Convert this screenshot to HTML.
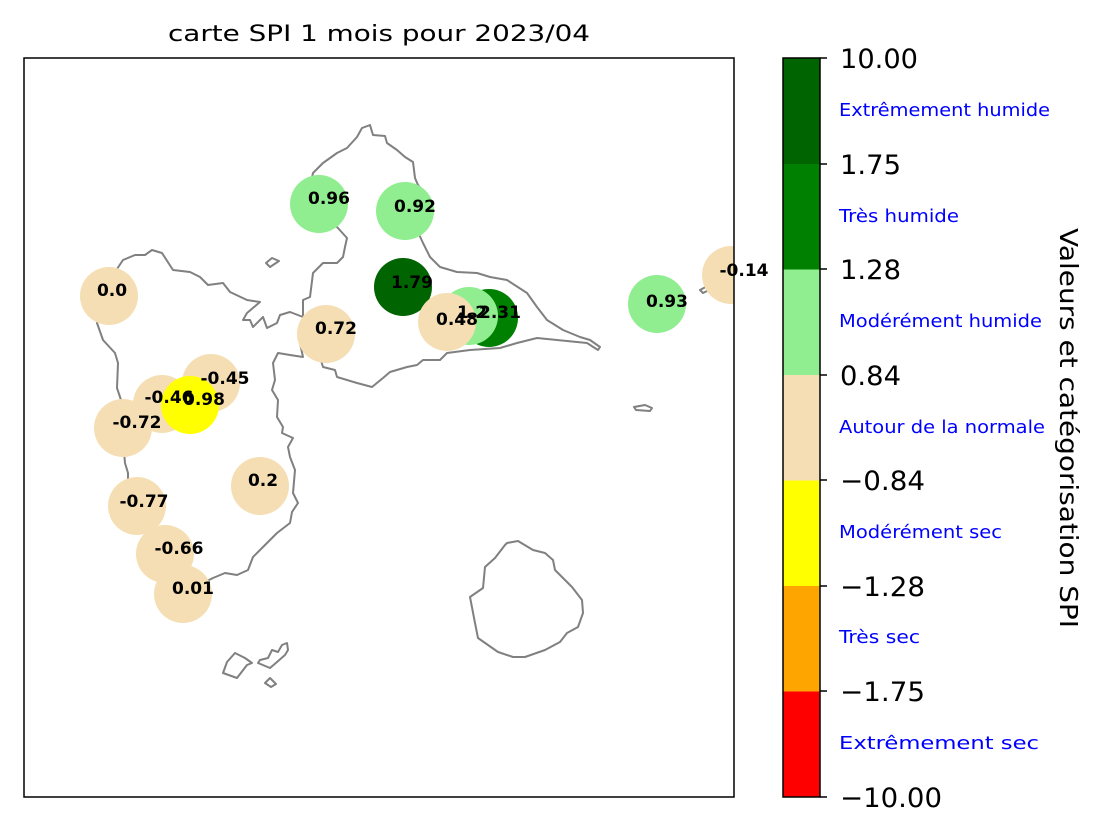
<!DOCTYPE html>
<html><head><meta charset="utf-8"><style>
body{margin:0;background:#fff}
svg{display:block;font-family:"DejaVu Sans","Liberation Sans",sans-serif}
</style></head><body>
<svg width="1101" height="834" viewBox="0 0 1101 834">
<defs><clipPath id="ax"><rect x="24" y="58" width="710" height="739"/></clipPath></defs>
<text x="379" y="41" font-size="22" text-anchor="middle" textLength="422" lengthAdjust="spacingAndGlyphs">carte SPI 1 mois pour 2023/04</text>
<g clip-path="url(#ax)">
<g fill="none" stroke="#808080" stroke-width="2" stroke-linejoin="round">
<path d="M303,317 L290,312 280,315 277,323 267,328 263,317 253,327 250,320 243,320 247,313 260,302 247,300 230,292 223,283 208,285 200,277 190,272 173,270 162,253 152,250 145,255 135,255 123,260 115,272 113,283 103,300 97,323 103,340 115,353 118,363 117,388 122,403 123,410 120,432 123,440 125,463 128,473 128,497 143,520 148,540 162,557 175,567 178,578 190,590 203,583 213,578 225,573 237,575 248,570 253,557 263,547 277,533 290,523 292,512 298,503 293,493 295,470 290,457 288,447 293,438 282,433 283,427 277,417 278,400 272,390 275,380 273,363 278,353 290,355 303,357 300,343 303,340 310,343 320,357 323,367 335,370 337,377 357,383 372,387 383,378 390,372 407,367 417,365 423,360 440,360 447,353 470,350 500,348 517,343 537,338 587,343 598,350 600,347 590,340 580,337 563,330 547,320 537,307 527,293 507,280 490,277 477,273 457,272 440,267 430,257 423,243 417,230 420,207 422,190 418,185 415,178 413,162 405,157 397,150 387,143 385,136 373,135 370,125 362,128 357,137 347,148 337,153 323,163 313,173 310,187 320,220 337,227 347,238 345,247 343,257 337,263 323,263 313,273 310,297 303,300 Z"/>
<path d="M507,543 518,541 533,550 545,553 553,560 555,570 562,577 572,587 582,600 583,613 578,627 567,633 560,642 545,650 525,657 513,657 498,652 478,638 475,623 470,597 483,588 485,567 495,558 505,545Z"/>
<path d="M223,673 237,678 247,665 252,663 245,658 235,653 227,662Z"/>
<path d="M258,663 270,668 277,662 285,655 288,650 287,643 282,645 278,652 272,650 268,658 260,660Z"/>
<path d="M265,683 270,678 276,684 271,687Z"/>
<path d="M266,263 272,258 279,261 270,267Z"/>
<path d="M634,407 645,405 652,408 650,411 636,410Z"/>
<path d="M700,290 715,282 725,272 735,262 745,255 745,262 730,275 715,287 703,293Z"/>
</g>
<g>
<circle cx="319" cy="204" r="29" fill="#90ee90"/>
<circle cx="405" cy="211" r="29" fill="#90ee90"/>
<circle cx="403" cy="287" r="29" fill="#006400"/>
<circle cx="489" cy="318" r="29" fill="#008000"/>
<circle cx="469" cy="316" r="29" fill="#90ee90"/>
<circle cx="447" cy="322" r="29" fill="#f5deb3"/>
<circle cx="109" cy="296" r="29" fill="#f5deb3"/>
<circle cx="326" cy="334" r="29" fill="#f5deb3"/>
<circle cx="657" cy="304" r="29" fill="#90ee90"/>
<circle cx="731" cy="275" r="29" fill="#f5deb3"/>
<circle cx="211" cy="383" r="29" fill="#f5deb3"/>
<circle cx="162" cy="404" r="29" fill="#f5deb3"/>
<circle cx="190" cy="405" r="29" fill="#ffff00"/>
<circle cx="123" cy="428" r="29" fill="#f5deb3"/>
<circle cx="260" cy="486" r="29" fill="#f5deb3"/>
<circle cx="137" cy="506" r="29" fill="#f5deb3"/>
<circle cx="165" cy="554" r="29" fill="#f5deb3"/>
<circle cx="183" cy="594" r="29" fill="#f5deb3"/>
</g>
</g>
<g font-size="17" font-weight="bold" text-anchor="middle" fill="#000">
<text x="329" y="204">0.96</text>
<text x="415" y="212">0.92</text>
<text x="412" y="288">1.79</text>
<text x="500" y="318">2.31</text>
<text x="472" y="318">1.2</text>
<text x="457" y="325">0.48</text>
<text x="112" y="296">0.0</text>
<text x="336" y="334">0.72</text>
<text x="667" y="307">0.93</text>
<text x="744" y="276">-0.14</text>
<text x="225" y="384">-0.45</text>
<text x="169" y="403">-0.46</text>
<text x="204" y="405">0.98</text>
<text x="137" y="428">-0.72</text>
<text x="263" y="486">0.2</text>
<text x="144" y="507">-0.77</text>
<text x="179" y="554">-0.66</text>
<text x="193" y="594">0.01</text>
</g>
<rect x="24" y="58" width="710" height="739" fill="none" stroke="#000" stroke-width="1.5"/>
<g>
<rect x="783" y="691" width="37" height="106" fill="#ff0000"/>
<rect x="783" y="586" width="37" height="105.5" fill="#ffa500"/>
<rect x="783" y="480" width="37" height="106" fill="#ffff00"/>
<rect x="783" y="375" width="37" height="105.5" fill="#f5deb3"/>
<rect x="783" y="269" width="37" height="106" fill="#90ee90"/>
<rect x="783" y="164" width="37" height="105.5" fill="#008000"/>
<rect x="783" y="58" width="37" height="106" fill="#006400"/>
<rect x="783" y="58" width="37" height="739" fill="none" stroke="#000" stroke-width="1.5"/>
</g>
<g stroke="#000" stroke-width="1.5">
<line x1="820" y1="58" x2="827" y2="58"/><line x1="820" y1="164" x2="827" y2="164"/><line x1="820" y1="269" x2="827" y2="269"/><line x1="820" y1="375" x2="827" y2="375"/><line x1="820" y1="480" x2="827" y2="480"/><line x1="820" y1="586" x2="827" y2="586"/><line x1="820" y1="691" x2="827" y2="691"/><line x1="820" y1="797" x2="827" y2="797"/>
</g>
<g font-size="27" fill="#000">
<text x="840" y="68" textLength="78" lengthAdjust="spacingAndGlyphs">10.00</text>
<text x="840" y="174" textLength="61" lengthAdjust="spacingAndGlyphs">1.75</text>
<text x="840" y="279" textLength="61" lengthAdjust="spacingAndGlyphs">1.28</text>
<text x="840" y="385" textLength="61" lengthAdjust="spacingAndGlyphs">0.84</text>
<text x="840" y="490" textLength="85" lengthAdjust="spacingAndGlyphs">−0.84</text>
<text x="840" y="596" textLength="85" lengthAdjust="spacingAndGlyphs">−1.28</text>
<text x="840" y="701" textLength="85" lengthAdjust="spacingAndGlyphs">−1.75</text>
<text x="840" y="807" textLength="102" lengthAdjust="spacingAndGlyphs">−10.00</text>
</g>
<g font-size="18" fill="#0000ff">
<text x="839" y="116" textLength="211" lengthAdjust="spacingAndGlyphs">Extrêmement humide</text>
<text x="839" y="222" textLength="120" lengthAdjust="spacingAndGlyphs">Très humide</text>
<text x="839" y="327" textLength="203" lengthAdjust="spacingAndGlyphs">Modérément humide</text>
<text x="839" y="433" textLength="206" lengthAdjust="spacingAndGlyphs">Autour de la normale</text>
<text x="839" y="538" textLength="163" lengthAdjust="spacingAndGlyphs">Modérément sec</text>
<text x="839" y="643" textLength="81" lengthAdjust="spacingAndGlyphs">Très sec</text>
<text x="839" y="749" textLength="200" lengthAdjust="spacingAndGlyphs">Extrêmement sec</text>
</g>
<text transform="translate(1060,428) rotate(90)" font-size="25" text-anchor="middle" textLength="400" lengthAdjust="spacingAndGlyphs">Valeurs et catégorisation SPI</text>
</svg>
</body></html>
